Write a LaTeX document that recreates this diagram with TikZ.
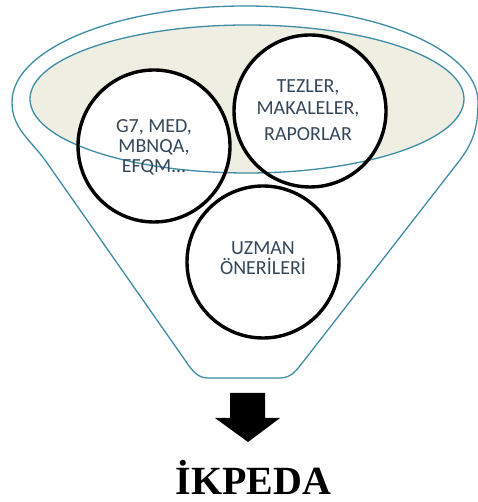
\documentclass[tikz,border=0pt]{standalone}
\usepackage{fontspec}
\setmainfont{Liberation Serif}
\newfontfamily\carlito{Carlito}
\pgfdeclarelayer{bg}
\pgfsetlayers{bg,main}
\definecolor{rimline}{HTML}{3E8CA6}
\definecolor{rimfill}{HTML}{EEEEE2}
\definecolor{labeltext}{HTML}{354859}

\begin{document}
\begin{tikzpicture}[x=1pt,y=1pt,
  rim/.style={draw=rimline, line width=1.3pt},
  ring/.style={circle, draw=black, line width=3.4pt, minimum size=152pt, inner sep=0pt},
  lbl/.style={font=\carlito\fontsize{20}{20}\selectfont, text=labeltext, align=center, inner sep=0pt},
  title/.style={font=\bfseries\fontsize{40}{40}\selectfont, anchor=base, inner sep=0pt}]
\useasboundingbox (0,0) rectangle (477,502);

% centres of the three source circles and of the funnel mouth
\coordinate (cl) at (154,356);
\coordinate (cr) at (310,391);
\coordinate (cb) at (263,240);
\coordinate (rimc) at (247,403);

\begin{pgfonlayer}{bg}
  \fill[white] (0,0) rectangle (477,502);
  \fill[rimfill] (rimc) ellipse[x radius=217, y radius=74];
  \foreach \c in {cl,cr,cb} \fill[white] (\c) circle[radius=76];
\end{pgfonlayer}

% funnel outline: rim arc on top, tapered sides, rounded spout
\draw[rim] (12,400) arc[start angle=180, end angle=0, x radius=233, y radius=96]
  to[out=-90, in=52] (458.4,340)
  -- (303,140) to[out=232, in=0] (280,124)
  -- (208,124) to[out=180, in=305] (186.3,140)
  -- (46.4,340) to[out=125, in=-90] (12,400);
\draw[rim] (rimc) ellipse[x radius=217, y radius=74];

% source circles
\node[ring] (left)   at (cl) {};
\node[ring] (right)  at (cr) {};
\node[ring] (bottom) at (cb) {};

\node[lbl] (lt) at (154,355) {G7, MED,\\MBNQA,\\EFQM...};
\node[lbl] (rt) at (308,392) {TEZLER,\\[2pt]MAKALELER,\\[6pt]RAPORLAR};
\node[lbl] (bt) at (263,244) {UZMAN\\ÖNERİLERİ};

% block arrow out of the spout
\fill[black] (230,109) -- (265,109) -- (265,84) -- (280,84) -- (248,60)
  -- (215,84) -- (230,84) -- cycle;

\node[title] (res) at (253.5,8) {İKPEDA};
\end{tikzpicture}
\end{document}
